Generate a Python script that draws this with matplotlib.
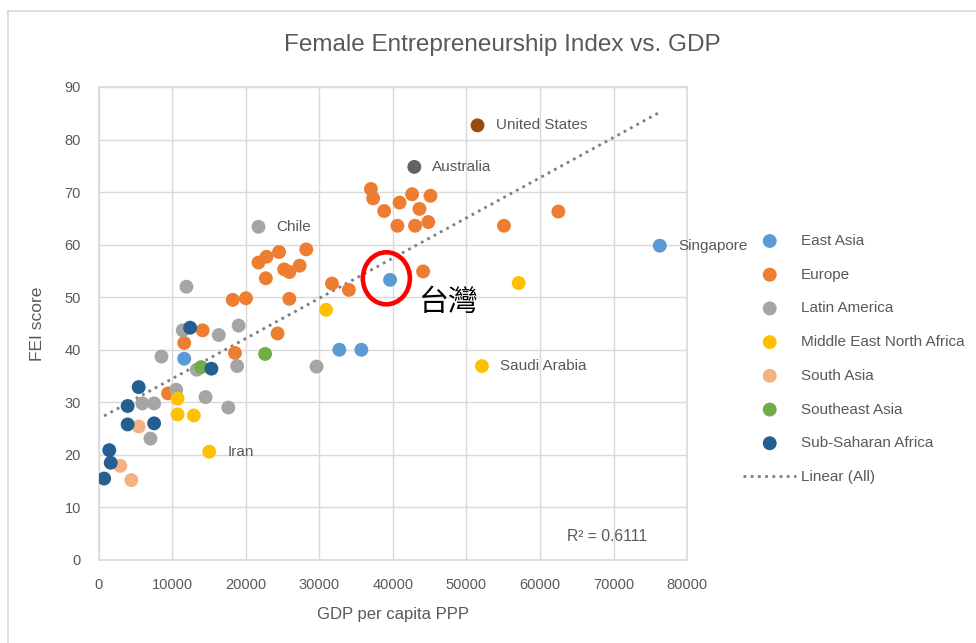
import numpy as np
import matplotlib
matplotlib.use('Agg')
import matplotlib.pyplot as plt
from matplotlib.lines import Line2D
from matplotlib.patches import Ellipse

# data (GDP per capita PPP, FEI score)
east_asia_x = [11600, 32700, 35700, 39600, 76300]
east_asia_y = [38.3, 40.0, 40.0, 53.3, 59.8]

europe_x = [37000, 37300, 38800, 40900, 42600, 45100, 43600, 40600, 43000, 44800,
            62500, 55100, 44100, 21700, 22800, 24500, 28200, 27300, 25200, 25900,
            22700, 31700, 34000, 18200, 20000, 25900, 14100, 24300, 11600, 18500, 9400]
europe_y = [70.6, 68.8, 66.4, 68.0, 69.6, 69.3, 66.8, 63.6, 63.6, 64.3,
            66.3, 63.6, 54.9, 56.6, 57.7, 58.6, 59.1, 56.0, 55.3, 54.8,
            53.6, 52.6, 51.4, 49.5, 49.8, 49.7, 43.7, 43.1, 41.3, 39.4, 31.7]

latam_x = [21700, 11900, 11400, 16300, 19000, 8500, 13300, 18800, 29600, 10500,
           14500, 5900, 7500, 17600, 7000]
latam_y = [63.4, 52.0, 43.7, 42.8, 44.6, 38.7, 36.2, 36.9, 36.8, 32.4,
           31.0, 29.8, 29.8, 29.0, 23.1]

mena_x = [30900, 10700, 10700, 12900, 15000, 57100, 52100]
mena_y = [47.6, 30.7, 27.7, 27.5, 20.6, 52.7, 36.9]

south_asia_x = [5400, 2900, 4400]
south_asia_y = [25.4, 17.9, 15.2]

se_asia_x = [22600, 13900]
se_asia_y = [39.2, 36.7]

ssa_x = [12400, 15300, 5400, 3900, 3900, 7500, 1400, 1600, 700]
ssa_y = [44.2, 36.4, 32.9, 29.3, 25.8, 26.0, 20.9, 18.5, 15.5]

us_x, us_y = [51500], [82.7]
aus_x, aus_y = [42900], [74.8]

labels = {'Chile': (21700, 63.4), 'United States': (51500, 82.7), 'Australia': (42900, 74.8),
          'Singapore': (76300, 59.8), 'Saudi Arabia': (52100, 36.9), 'Iran': (15000, 20.6)}
taiwan = (39600, 53.3)

plt.rcParams['font.family'] = ['Liberation Sans', 'DejaVu Sans']
txt = '#595959'
grid_c = '#d9d9d9'

fig = plt.figure(figsize=(9.76, 6.43), dpi=100)
ax = fig.add_axes([0.1014, 0.1291, 0.6025, 0.7356])

series = [
    (east_asia_x, east_asia_y, '#5B9BD5', 'East Asia'),
    (europe_x, europe_y, '#ED7D31', 'Europe'),
    (latam_x, latam_y, '#A5A5A5', 'Latin America'),
    (mena_x, mena_y, '#FFC000', 'Middle East North Africa'),
    (south_asia_x, south_asia_y, '#F4B183', 'South Asia'),
    (se_asia_x, se_asia_y, '#70AD47', 'Southeast Asia'),
    (ssa_x, ssa_y, '#255E91', 'Sub-Saharan Africa'),
]
handles = []
for xs, ys, c, name in series:
    h = ax.scatter(xs, ys, s=100, color=c, edgecolors='none', zorder=3, label=name)
    handles.append(h)
ax.scatter(us_x, us_y, s=100, color='#9E480E', edgecolors='none', zorder=3)
ax.scatter(aus_x, aus_y, s=100, color='#636363', edgecolors='none', zorder=3)

# linear trend over all points
all_x = np.concatenate([np.array(s[0]) for s in series] + [us_x, aus_x])
all_y = np.concatenate([np.array(s[1]) for s in series] + [us_y, aus_y])
k, b = np.polyfit(all_x, all_y, 1)
tx = np.array([all_x.min(), all_x.max()])
trend, = ax.plot(tx, k * tx + b, color='#7f7f7f', lw=2, linestyle=(0, (1, 1.6)), zorder=2,
                 label='Linear (All)')
handles.append(trend)

for name, (px, py) in labels.items():
    ax.annotate(name, (px, py), xytext=(13, 0), textcoords='offset points',
                va='center', ha='left', fontsize=11, color=txt, annotation_clip=False)

ax.text(0.932, 0.049, 'R² = 0.6111', transform=ax.transAxes, ha='right', va='center',
        fontsize=11.3, color=txt)

# highlight Taiwan
ax.add_patch(Ellipse((taiwan[0] - 500, taiwan[1] + 0.3), width=6400, height=9.9, fill=False,
                     edgecolor='#ff0000', lw=3.3, zorder=4))
ax.annotate('台灣', taiwan, xytext=(21, -16), textcoords='offset points', va='center',
            ha='left', fontsize=21.5, color='black',
            family=['Noto Sans CJK TC', 'DejaVu Sans'])

ax.set_xlim(0, 80000)
ax.set_ylim(0, 90)
ax.set_xticks(range(0, 80001, 10000))
ax.set_yticks(range(0, 91, 10))
ax.grid(True, color=grid_c, lw=1)
ax.set_axisbelow(True)
for sp in ax.spines.values():
    sp.set_color(grid_c)
    sp.set_linewidth(1.2)
ax.tick_params(length=0, labelsize=10.5, labelcolor=txt, pad=13)

ax.set_xlabel('GDP per capita PPP', fontsize=12, color=txt, labelpad=11)
ax.set_ylabel('FEI score', fontsize=12.5, color=txt, labelpad=14)
fig.text(502 / 976, 1 - 45 / 643, 'Female Entrepreneurship Index vs. GDP', fontsize=17.5,
         color=txt, ha='center', va='center')

fig.legend(handles=handles, loc='upper left', bbox_to_anchor=(743 / 976, 1 - 234 / 643),
           frameon=False, fontsize=11, labelcolor=txt, handlelength=3.5,
           handletextpad=0.3, labelspacing=1.29, borderpad=0, borderaxespad=0,
           scatterpoints=1, markerscale=1)

# chart frame edges
fig.add_artist(Line2D([8 / 976, 1], [1 - 11 / 643, 1 - 11 / 643], color=grid_c, lw=1.2))
fig.add_artist(Line2D([8 / 976, 8 / 976], [0, 1 - 11 / 643], color=grid_c, lw=1.2))

fig.savefig('out.png', dpi=100)
